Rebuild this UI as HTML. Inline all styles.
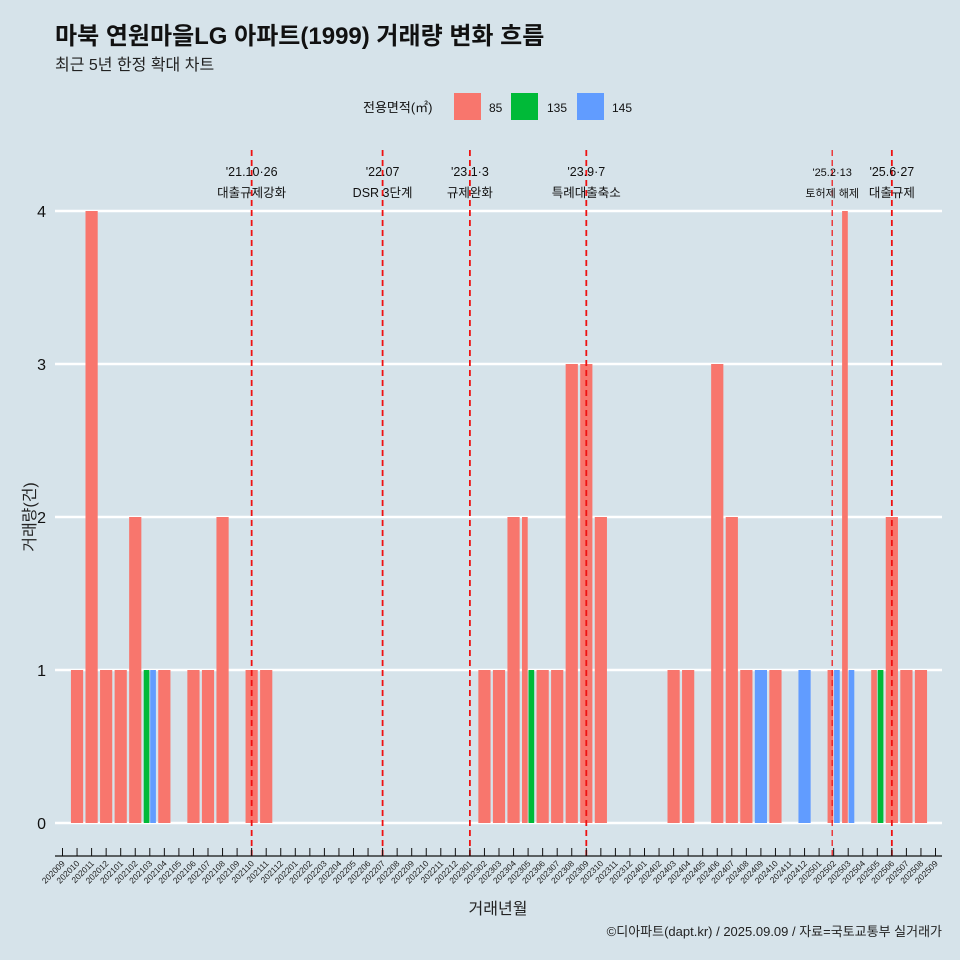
<!DOCTYPE html>
<html><head><meta charset="utf-8"><style>
body{margin:0;background:#d6e3ea;}
svg{display:block;font-family:"Liberation Sans","Noto Sans CJK KR",sans-serif;}
</style></head><body>
<svg id="chart" width="960" height="960" viewBox="0 0 960 960">
<rect width="960" height="960" fill="#d6e3ea"/>
<text x="55" y="44" font-size="24" font-weight="bold" fill="#111">마북 연원마을LG 아파트(1999) 거래량 변화 흐름</text>
<text x="55" y="70" font-size="16" fill="#222">최근 5년 한정 확대 차트</text>
<g>
<text x="363" y="112" font-size="13" fill="#111">전용면적(㎡)</text>
<rect x="454" y="93" width="27" height="27" fill="#f8766d"/>
<text x="489" y="112" font-size="12" fill="#111">85</text>
<rect x="511" y="93" width="27" height="27" fill="#00ba38"/>
<text x="547" y="112" font-size="12" fill="#111">135</text>
<rect x="577" y="93" width="27" height="27" fill="#619cff"/>
<text x="612" y="112" font-size="12" fill="#111">145</text>
</g>
<g id="grid"></g><g id="bars"></g><g id="vlines"></g><g id="xaxis"></g>
<text x="35" y="517" font-size="16" fill="#222" text-anchor="middle" transform="rotate(-90 35 517)">거래량(건)</text>
<text x="498" y="914" font-size="16" fill="#222" text-anchor="middle">거래년월</text>
<text x="942" y="936" font-size="13" fill="#222" text-anchor="end">©디아파트(dapt.kr) / 2025.09.09 / 자료=국토교통부 실거래가</text>
</svg>
<script>
const months=["202009","202010","202011","202012","202101","202102","202103","202104","202105","202106","202107","202108","202109","202110","202111","202112","202201","202202","202203","202204","202205","202206","202207","202208","202209","202210","202211","202212","202301","202302","202303","202304","202305","202306","202307","202308","202309","202310","202311","202312","202401","202402","202403","202404","202405","202406","202407","202408","202409","202410","202411","202412","202501","202502","202503","202504","202505","202506","202507","202508","202509"];
const sizes=["85","135","145"];
const colors=["#f8766d","#00ba38","#619cff"];
const v85=[0,1,4,1,1,2,0,1,0,1,1,2,0,1,1,0,0,0,0,0,0,0,0,0,0,0,0,0,0,1,1,2,2,1,1,3,3,2,0,0,0,0,1,1,0,3,2,1,0,1,0,0,0,1,4,0,1,2,1,1,0];
const v135=[0,0,0,0,0,0,1,0,0,0,0,0,0,0,0,0,0,0,0,0,0,0,0,0,0,0,0,0,0,0,0,0,1,0,0,0,0,0,0,0,0,0,0,0,0,0,0,0,0,0,0,0,0,0,0,0,1,0,0,0,0];
const v145=[0,0,0,0,0,0,1,0,0,0,0,0,0,0,0,0,0,0,0,0,0,0,0,0,0,0,0,0,0,0,0,0,0,0,0,0,0,0,0,0,0,0,0,0,0,0,0,0,1,0,0,1,0,1,1,0,0,0,0,0,0];
const yTicks=[0,1,2,3,4];
const evMonth=[13,22,28,36,52.9,57];
const evL1=["'21.10·26","'22.07","'23.1·3","'23.9·7","'25.2·13","'25.6·27"];
const evL2=["대출규제강화","DSR 3단계","규제완화","특례대출축소","토허제 해제","대출규제"];
const NS="http://www.w3.org/2000/svg";
const X=i=>62.5+i*14.55, Y=v=>823-v*153, BW=13;
function mk(t,a,p){const e=document.createElementNS(NS,t);for(const k in a)e.setAttribute(k,a[k]);(p||document.getElementById('chart')).appendChild(e);return e;}
const grid=document.getElementById('grid');
yTicks.forEach(t=>{
 const l=mk('line',{x1:55,x2:942,y1:Y(t),y2:Y(t),stroke:'#fff','stroke-width':2.5},grid);
 
 
 const tx=mk('text',{x:46,y:Y(t)+6,'font-size':16,'text-anchor':'end',fill:'#111'},grid);tx.textContent=t;
 
 
});
const bars=document.getElementById('bars');
const series=[v85,v135,v145];
months.forEach((m,i)=>{
 const act=[0,1,2].filter(s=>series[s][i]>0);
 const w=BW/act.length;
 act.forEach((s,k)=>{
  const v=series[s][i];
  const r=mk('rect',{x:X(i)-BW/2+k*w+0.4,y:Y(v),width:w-0.8,height:Y(0)-Y(v),fill:colors[s]},bars);
  
  
 });
});
const vl=document.getElementById('vlines');
evMonth.forEach((e,j)=>{
 const x=X(e);
 const l=mk('line',{x1:x,x2:x,y1:150,y2:856,stroke:'#ee1111','stroke-width':j==4?1.2:1.8,'stroke-dasharray':'6,4'},vl);
 
 
 const fs=j==4?11:12.5;
 const t1=mk('text',{x:x,y:176,'font-size':fs,'text-anchor':'middle',fill:'#111'},vl);t1.textContent=evL1[j];
 
 
 const t2=mk('text',{x:x,y:197,'font-size':fs,'text-anchor':'middle',fill:'#111'},vl);t2.textContent=evL2[j];
 
 
});
const xa=document.getElementById('xaxis');
const al=mk('line',{x1:55,x2:942,y1:856,y2:856,stroke:'#111','stroke-width':1.2},xa);


months.forEach((m,i)=>{
 const x=X(i);
 mk('line',{x1:x,x2:x,y1:848,y2:856,stroke:'#111','stroke-width':1},xa);
 const t=mk('text',{x:x+3,y:864,'font-size':8.5,'text-anchor':'end',fill:'#222',transform:`rotate(-45 ${x+3} 864)`},xa);t.textContent=m;
 
 
});
</script>
</body></html>
